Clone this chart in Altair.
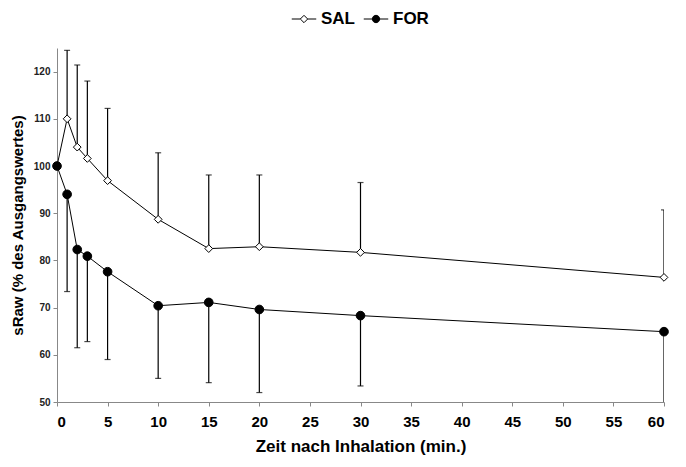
import altair as alt
import pandas as pd

times = [0, 1, 2, 3, 5, 10, 15, 20, 30, 60]
sal_mean = [100, 110, 104, 101.6, 96.9, 88.7, 82.5, 82.9, 81.7, 76.4]
sal_upper = [None, 124.5, 121.4, 118, 112.2, 102.8, 98.1, 98.1, 96.5, 90.7]
for_mean = [100, 94, 82.3, 80.9, 77.6, 70.4, 71.1, 69.6, 68.3, 64.9]
for_lower = [None, 73.4, 61.5, 62.8, 59, 55, 54.1, 52, 53.4, 48]
series_names = ["SAL", "FOR"]

rows = []
for t, m, b in zip(times, sal_mean, sal_upper):
    rows.append({"t": t, "v": m, "b": b, "s": "SAL"})
for t, m, b in zip(times, for_mean, for_lower):
    rows.append({"t": t, "v": m, "b": b, "s": "FOR"})
df = pd.DataFrame(rows)

FONT = "Liberation Sans, Arial, sans-serif"

x = alt.X("t:Q", scale=alt.Scale(domain=[0, 60], nice=False, zero=False),
          axis=alt.Axis(values=list(range(0, 61, 5)), title="Zeit nach Inhalation (min.)",
                        labelFontSize=15, labelFontWeight="bold", labelColor="black",
                        labelPadding=8, titleFontSize=17, titleFontWeight="bold",
                        titlePadding=9, tickSize=4, domainColor="#888", tickColor="#888"))
y = alt.Y("v:Q", scale=alt.Scale(domain=[50, 125], nice=False, zero=False),
          axis=alt.Axis(values=list(range(50, 121, 10)), title="sRaw (% des Ausgangswertes)",
                        labelFontSize=10, labelFontWeight="bold", labelColor="#222",
                        labelPadding=3, titleFontSize=15, titleFontWeight="bold",
                        titlePadding=8, tickSize=4, domainColor="#888", tickColor="#888"))

base = alt.Chart(df)

lines = base.mark_line(color="black", strokeWidth=1).encode(
    x=x, y=y, detail="s:N", order="t:Q")

errdf = base.transform_filter("isValid(datum.b)")
rules = errdf.mark_rule(color="black", strokeWidth=1.2, clip=True).encode(
    x="t:Q", y="v:Q", y2="b:Q")
caps = errdf.mark_tick(color="black", orient="horizontal", size=6, thickness=1.2, clip=True).encode(
    x="t:Q", y=alt.Y("b:Q"))

points = base.mark_point(filled=True, stroke="black", strokeWidth=1, opacity=1).encode(
    x="t:Q", y="v:Q",
    shape=alt.Shape("s:N", scale=alt.Scale(domain=series_names, range=["diamond", "circle"]), legend=None),
    fill=alt.Fill("s:N", scale=alt.Scale(domain=series_names, range=["white", "black"]), legend=None),
    size=alt.Size("s:N", scale=alt.Scale(domain=series_names, range=[60, 75]), legend=None),
)

sal_path = "M-1,0H-0.3M0.3,0H1M0,-0.3L0.3,0L0,0.3L-0.3,0Z"
for_path = "M-1,0H-0.3M0.3,0H1M0.3,0A0.3,0.3,0,1,1,-0.3,0A0.3,0.3,0,1,1,0.3,0Z"

leg = alt.Legend(title=None, orient="none", direction="horizontal",
                 legendX=234, legendY=-42, symbolSize=600,
                 symbolOpacity=1, symbolStrokeColor="black",
                 symbolStrokeWidth=1, labelFontSize=17,
                 labelFont=FONT, labelFontWeight="bold",
                 labelColor="black", labelOffset=4,
                 columnPadding=6, padding=0)

legend_layer = base.transform_filter("false").mark_point(
    filled=True, strokeWidth=1).encode(
    x="t:Q", y="v:Q",
    shape=alt.Shape("s:N", scale=alt.Scale(domain=series_names, range=[sal_path, for_path]), legend=leg),
    fill=alt.Fill("s:N", scale=alt.Scale(domain=series_names, range=["white", "black"]), legend=leg),
    stroke=alt.Stroke("s:N", scale=alt.Scale(domain=series_names, range=["black", "black"]), legend=leg),
)

chart = alt.layer(lines, rules, caps, points, legend_layer).resolve_scale(
    shape="independent", fill="independent", size="independent", stroke="independent"
).properties(
    width=607, height=354,
    autosize=alt.AutoSizeParams(type="none"),
    padding={"left": 49, "top": 40, "right": 14, "bottom": 57},
).configure_view(stroke=None).configure_axis(
    grid=False, labelFont=FONT, titleFont=FONT, titleColor="black"
).configure_legend(labelFont=FONT)

chart.save("out.html", embed_options={"renderer": "svg", "actions": False})
